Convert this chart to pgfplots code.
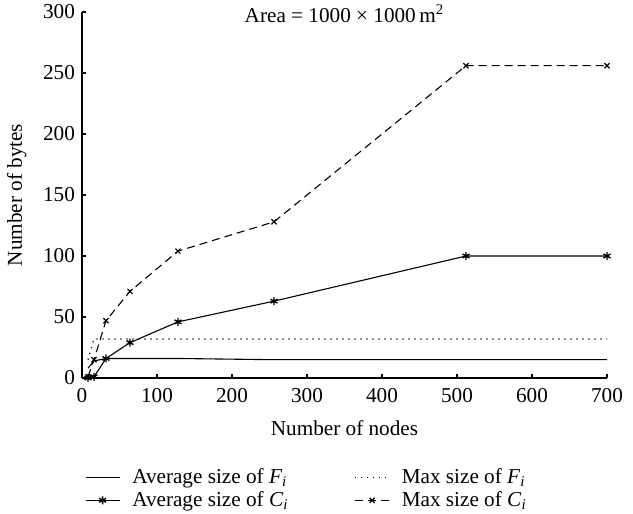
\documentclass[border=0pt]{standalone}
\usepackage{pgfplots}
\pgfplotsset{compat=1.18}
\usepackage{fontspec}
\setmainfont{Liberation Serif}
\newcommand{\sub}[2]{\textit{#1}\textsubscript{\textit{#2}}}
\newcommand{\fs}{\fontsize{10.6}{12.5}\selectfont}
\begin{document}
\begin{tikzpicture}
\path[use as bounding box] (-41pt,-68pt) rectangle (275.5pt,189pt);
\begin{axis}[
  at={(0,0)}, anchor=south west,
  scale only axis,
  width=262.5pt, height=183pt,
  xmin=0, xmax=700, ymin=0, ymax=300,
  axis lines=left,
  axis line style={-, line width=0.6pt},
  xtick={0,100,...,700},
  ytick={0,50,...,300},
  tick align=inside,
  major tick length=2pt,
  tick style={black, line width=0.6pt},
  /pgf/number format/assume math mode=true,
  ticklabel style={font=\fs},
  xticklabel style={yshift=-1.5pt},
  label style={font=\fs},
  xlabel={Number of nodes},
  ylabel={Number of bytes},
  xlabel style={yshift=-2pt},
  ylabel style={yshift=1.5pt},
  legend columns=2,
  legend style={draw=none, fill=none, inner sep=0pt, at={(0.005,-0.235)}, anchor=north west,
    font=\fs, column sep=4pt,
    /tikz/every even column/.append style={column sep=31pt},
    row sep=-1.5pt},
  legend cell align=left,
  clip=false,
]
\addplot[black, line width=0.55pt] coordinates {(8,8) (16,14) (32,16) (64,16) (128,16) (256,15) (512,15) (700,15)};
\addlegendentry{Average size of \sub{F}{i}}
\addplot[black, line width=0.6pt, dash pattern=on 0.6pt off 2.4pt] coordinates {(8,15) (16,32) (32,32) (64,32) (128,32) (256,32) (512,32) (700,32)};
\addlegendentry{Max size of \sub{F}{i}}
\addplot[black, line width=0.55pt, mark=asterisk, mark size=2pt, mark options={solid, line width=0.7pt}] coordinates {(8,0) (16,1) (32,16) (64,29) (128,46) (256,63) (512,100) (700,100)};
\addlegendentry{Average size of \sub{C}{i}}
\addplot[black, line width=0.55pt, dash pattern=on 4pt off 2.5pt, mark=x, mark size=1.8pt, mark options={solid, line width=0.6pt}] coordinates {(8,1) (16,15) (32,47) (64,71) (128,104) (256,128) (512,256) (700,256)};
\addlegendentry{Max size of \sub{C}{i}}
\node[font=\fs, anchor=base, yshift=-5pt] at (rel axis cs:0.5,1) {Area = 1000 × 1000\,m\textsuperscript{2}};
\end{axis}
\end{tikzpicture}
\end{document}
